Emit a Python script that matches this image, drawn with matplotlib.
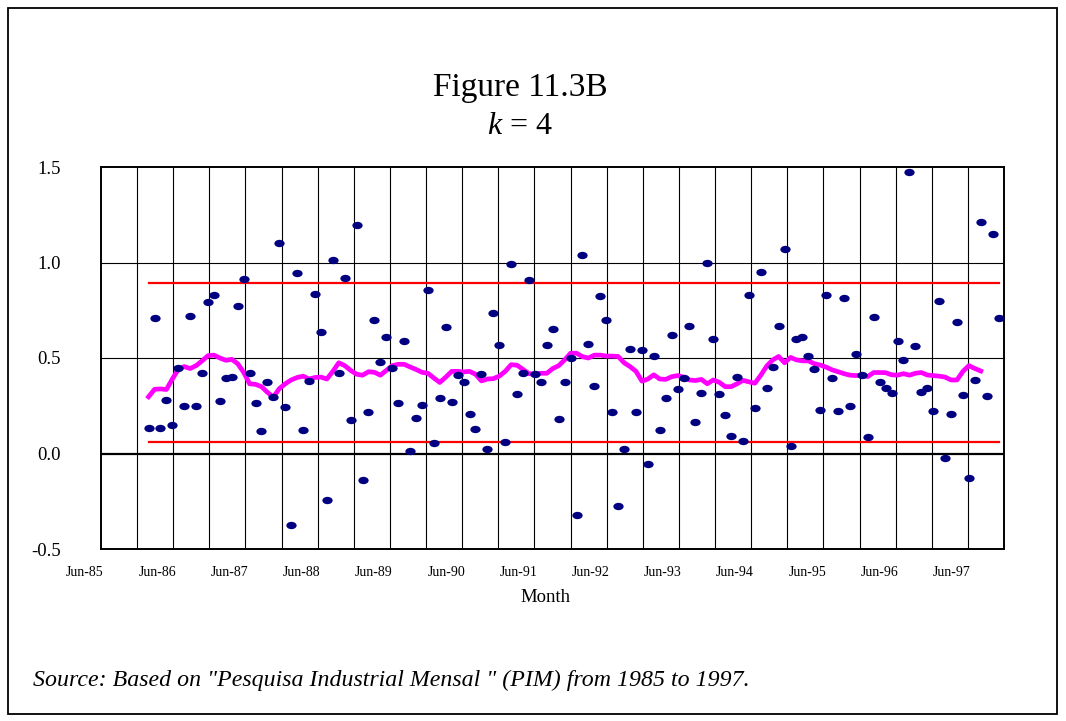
import numpy as np
import matplotlib
matplotlib.use("Agg")
import matplotlib.pyplot as plt
from matplotlib.markers import MarkerStyle
from matplotlib.transforms import Affine2D, ScaledTranslation
from matplotlib.patches import Rectangle

plt.rcParams['font.family'] = ['Liberation Serif', 'DejaVu Serif']
plt.rcParams['mathtext.fontset'] = 'custom'
plt.rcParams['mathtext.it'] = 'Liberation Serif:italic'
plt.rcParams['mathtext.rm'] = 'Liberation Serif'

# ---- data ----
tick_labels = ["Jun-85", "Jun-86", "Jun-87", "Jun-88", "Jun-89", "Jun-90", "Jun-91",
               "Jun-92", "Jun-93", "Jun-94", "Jun-95", "Jun-96", "Jun-97"]

ratio_values = [
    0.135, 0.707, 0.133, 0.279, 0.151, 0.449, 0.250, 0.720, 0.247, 0.424,
    0.795, 0.830, 0.275, 0.393, 0.401, 0.773, 0.913, 0.420, 0.267, 0.116,
    0.373, 0.295, 1.100, 0.244, -0.372, 0.945, 0.125, 0.379, 0.837, 0.635,
    -0.245, 1.014, 0.424, 0.920, 0.176, 1.195, -0.141, 0.217, 0.700, 0.477,
    0.611, 0.447, 0.264, 0.588, 0.012, 0.188, 0.254, 0.855, 0.054, 0.290,
    0.660, 0.268, 0.410, 0.373, 0.206, 0.127, 0.415, 0.025, 0.738, 0.569,
    0.058, 0.991, 0.310, 0.420, 0.910, 0.415, 0.373, 0.566, 0.654, 0.181,
    0.374, 0.500, -0.322, 1.037, 0.574, 0.356, 0.822, 0.699, 0.215, -0.275,
    0.023, 0.547, 0.215, 0.541, -0.054, 0.510, 0.123, 0.290, 0.620, 0.340,
    0.393, 0.670, 0.163, 0.315, 0.995, 0.602, 0.312, 0.199, 0.090, 0.400,
    0.068, 0.829, 0.240, 0.951, 0.343, 0.452, 0.667, 1.071, 0.038, 0.599,
    0.608, 0.512, 0.443, 0.230, 0.832, 0.395, 0.220, 0.815, 0.249, 0.519,
    0.410, 0.084, 0.716, 0.374, 0.345, 0.315, 0.588, 0.488, 1.472, 0.561,
    0.322, 0.341, 0.223, 0.801, -0.023, 0.206, 0.686, 0.307, -0.128, 0.386,
    1.211, 0.301, 1.148, 0.707,
]

moving_avg = [
    0.297, 0.336, 0.338, 0.335, 0.390, 0.440, 0.455, 0.445, 0.460, 0.485,
    0.512, 0.515, 0.500, 0.488, 0.493, 0.470, 0.425, 0.365, 0.362, 0.350,
    0.320, 0.295, 0.340, 0.365, 0.385, 0.398, 0.405, 0.390, 0.398, 0.400,
    0.390, 0.430, 0.475, 0.460, 0.435, 0.415, 0.410, 0.428, 0.425, 0.410,
    0.435, 0.460, 0.467, 0.467, 0.453, 0.440, 0.425, 0.420, 0.395, 0.372,
    0.400, 0.430, 0.430, 0.427, 0.430, 0.415, 0.380, 0.390, 0.392, 0.405,
    0.430, 0.465, 0.462, 0.440, 0.418, 0.415, 0.420, 0.420, 0.445, 0.460,
    0.490, 0.525, 0.525, 0.507, 0.500, 0.515, 0.515, 0.510, 0.510, 0.508,
    0.475, 0.455, 0.430, 0.379, 0.390, 0.412, 0.390, 0.388, 0.402, 0.408,
    0.400, 0.385, 0.382, 0.388, 0.365, 0.385, 0.373, 0.350, 0.350, 0.365,
    0.383, 0.375, 0.368, 0.410, 0.458, 0.490, 0.508, 0.475, 0.503, 0.490,
    0.485, 0.485, 0.470, 0.463, 0.452, 0.438, 0.428, 0.418, 0.410, 0.408,
    0.410, 0.403, 0.424, 0.424, 0.423, 0.412, 0.410, 0.418, 0.410, 0.420,
    0.424, 0.411, 0.408, 0.405, 0.400, 0.385, 0.385, 0.430, 0.460, 0.445,
    0.432,
]

upper_limit = 0.894
lower_limit = 0.061

# ---- figure ----
W, H = 1066, 721
fig = plt.figure(figsize=(W / 100, H / 100), dpi=100)
fig.patch.set_facecolor("white")
fig.patches.append(Rectangle((8 / W, 1 - 714 / H), (1057 - 8) / W, (714 - 8) / H,
                             transform=fig.transFigure, fill=False,
                             edgecolor="black", linewidth=1.3))

ax = fig.add_axes([101 / W, 1 - 549 / H, (1004 - 101) / W, (549 - 167) / H])

n = len(ratio_values)
months = np.linspace(7.9, 149.1, n)  # monthly observations on a month axis (0 = Jun-85)

ax.set_xlim(0, 150)
ax.set_ylim(-0.5, 1.5)

# grid
for m in range(6, 150, 6):
    ax.axvline(m, color="black", linewidth=0.8, zorder=1)
for yv in (0.5, 1.0):
    ax.axhline(yv, color="black", linewidth=0.8, zorder=1)
ax.axhline(0.0, color="black", linewidth=1.6, zorder=1)

# control limits
ax.plot([months[0], months[-1]], [upper_limit, upper_limit], color="#ff0000", linewidth=1.6, zorder=2)
ax.plot([months[0], months[-1]], [lower_limit, lower_limit], color="#ff0000", linewidth=1.6, zorder=2)

# moving average
ax.plot(months[:len(moving_avg)], moving_avg, color="#ff00ff", linewidth=3.4, zorder=3)

# points
mk = MarkerStyle("o", transform=Affine2D().scale(1.4, 1.0))
ax.scatter(months, ratio_values, marker=mk, s=28, color="#000080", linewidths=0, zorder=4)

# ticks
ax.set_yticks([-0.5, 0.0, 0.5, 1.0, 1.5])
ax.set_yticklabels(["-0.5", "0.0", "0.5", "1.0", "1.5"], fontsize=13.5)
ax.tick_params(axis="y", length=0, pad=29)
ax.set_xticks(np.arange(0, 150, 12))
ax.set_xticklabels(tick_labels, fontsize=10)
ax.tick_params(axis="x", length=0, pad=12)
offset = ScaledTranslation(-16 / 100, 0, fig.dpi_scale_trans)
for lab in ax.get_xticklabels():
    lab.set_transform(lab.get_transform() + offset)

for s in ax.spines.values():
    s.set_linewidth(1.4)
    s.set_color("black")

# texts
fig.text(520 / W, 1 - 88 / H, "Figure 11.3B", ha="center", va="center", fontsize=24)
fig.text(520 / W, 1 - 126 / H, "$k$ = 4", ha="center", va="center", fontsize=23)
fig.text(545 / W, 1 - 598 / H, "Month", ha="center", va="center", fontsize=13.5)
fig.text(33 / W, 1 - 680 / H,
         'Source: Based on "Pesquisa Industrial Mensal " (PIM) from 1985 to 1997.',
         ha="left", va="center", fontsize=17.2, style="italic")

fig.savefig("out.png", dpi=100, facecolor="white")
